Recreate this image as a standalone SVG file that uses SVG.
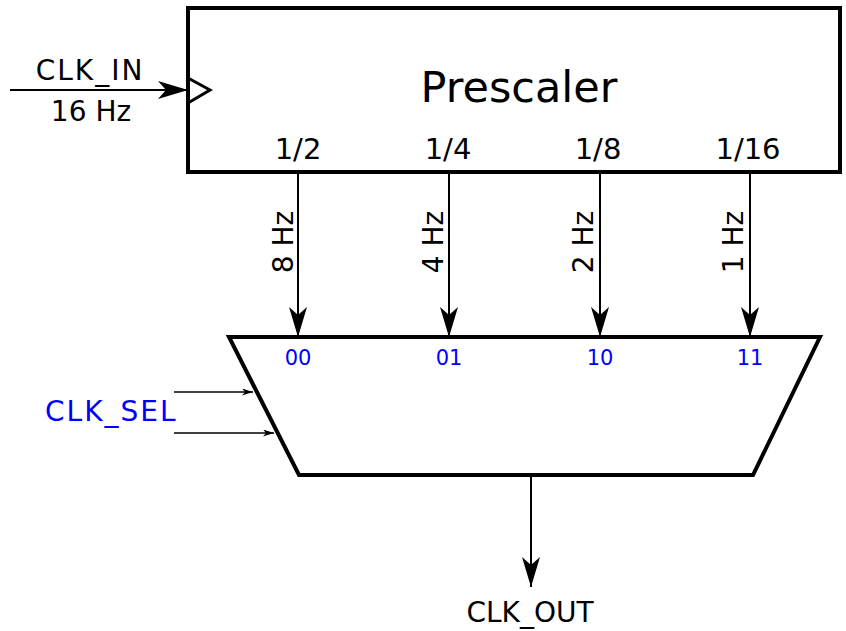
<svg xmlns="http://www.w3.org/2000/svg" width="846" height="631" viewBox="0 0 846 631">
<defs>
<style>
text{font-family:"DejaVu Sans","Liberation Sans",sans-serif;fill:#000}
.lbl{font-size:28px}
.div{font-size:29px}
.big{font-size:43px}
.sel{font-size:21px;fill:#0000ff}
.blue{font-size:28px;fill:#0000ff;letter-spacing:2px}
.box{fill:#fff;stroke:#000;stroke-width:4}
.wire{stroke:#000;stroke-width:2;fill:none}
.thin{stroke:#000;stroke-width:1.5;fill:none}
</style>
<marker id="ah" viewBox="0 0 30 18" refX="30" refY="9" markerWidth="30" markerHeight="18" markerUnits="userSpaceOnUse" orient="auto">
<path d="M0,0 L30,9 L0,18 L8,9 Z" fill="#000"/>
</marker>
<marker id="ahs" viewBox="0 0 11 7" refX="11" refY="3.5" markerWidth="11" markerHeight="7" markerUnits="userSpaceOnUse" orient="auto">
<path d="M0,0 L11,3.5 L0,7 L3,3.5 Z" fill="#000"/>
</marker>
</defs>
<g id="prescaler">
<rect class="box" x="188" y="8" width="652" height="164"/>
<polyline points="188,78 210,90 188,103" fill="none" stroke="#000" stroke-width="3"/>
<text class="big" x="519" y="102" text-anchor="middle">Prescaler</text>
<text class="div" x="298" y="159" text-anchor="middle">1/2</text>
<text class="div" x="448" y="159" text-anchor="middle">1/4</text>
<text class="div" x="598" y="159" text-anchor="middle">1/8</text>
<text class="div" x="748" y="159" text-anchor="middle">1/16</text>
</g>
<g id="mux">
<polygon class="box" points="229,337 820,337 753,475 299,475" stroke-width="4.5" stroke-linejoin="miter"/>
<text class="sel" x="298" y="365" text-anchor="middle">00</text>
<text class="sel" x="449" y="365" text-anchor="middle">01</text>
<text class="sel" x="600" y="365" text-anchor="middle">10</text>
<text class="sel" x="750" y="365" text-anchor="middle">11</text>
</g>
<g id="clk_in">
<text class="lbl" x="90" y="80" text-anchor="middle" letter-spacing="2">CLK_IN</text>
<text class="lbl" x="91" y="121" text-anchor="middle">16 Hz</text>
</g>
<g id="clk_sel">
<text class="blue" x="45" y="421">CLK_SEL</text>
</g>
<g id="clk_out">
<text class="lbl" x="530" y="622" text-anchor="middle">CLK_OUT</text>
</g>
<g id="connectors">
<line class="wire" x1="10" y1="90" x2="188" y2="90" marker-end="url(#ah)"/>
<line class="wire" x1="298" y1="172" x2="298" y2="337" marker-end="url(#ah)"/>
<line class="wire" x1="449" y1="172" x2="449" y2="337" marker-end="url(#ah)"/>
<line class="wire" x1="600" y1="172" x2="600" y2="337" marker-end="url(#ah)"/>
<line class="wire" x1="750" y1="172" x2="750" y2="337" marker-end="url(#ah)"/>
<line class="wire" x1="531" y1="475" x2="531" y2="587" marker-end="url(#ah)"/>
<line class="thin" x1="174" y1="392" x2="253" y2="392" marker-end="url(#ahs)"/>
<line class="thin" x1="174" y1="433" x2="274" y2="433" marker-end="url(#ahs)"/>
<text class="lbl" transform="translate(293,242) rotate(-90)" text-anchor="middle">8 Hz</text>
<text class="lbl" transform="translate(443,242) rotate(-90)" text-anchor="middle">4 Hz</text>
<text class="lbl" transform="translate(593,242) rotate(-90)" text-anchor="middle">2 Hz</text>
<text class="lbl" transform="translate(743,242) rotate(-90)" text-anchor="middle">1 Hz</text>
</g>
</svg>
